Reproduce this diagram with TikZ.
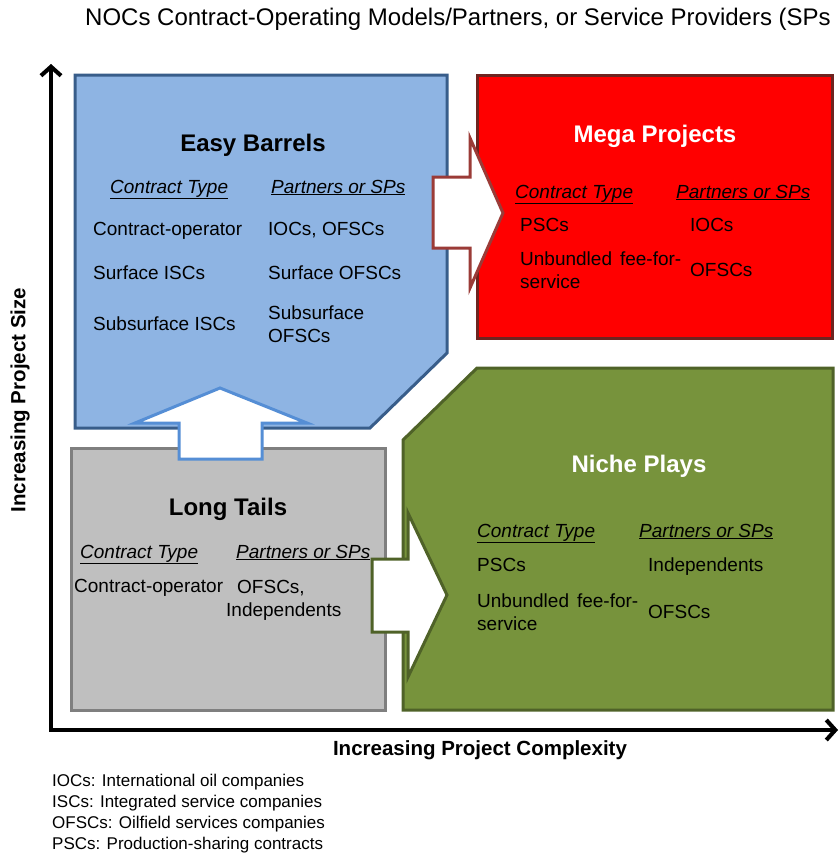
\documentclass[tikz,border=0pt]{standalone}
\usepackage{fontspec}
\setmainfont{Liberation Sans}
\usetikzlibrary{arrows.meta}

\definecolor{barrelfill}{HTML}{8EB4E3}
\definecolor{barrelline}{HTML}{385D8A}
\definecolor{upline}{HTML}{558ED5}
\definecolor{megafill}{HTML}{FF0000}
\definecolor{megaline}{HTML}{6E2420}
\definecolor{megaarrow}{HTML}{9B3B37}
\definecolor{tailfill}{HTML}{BFBFBF}
\definecolor{tailline}{HTML}{7F7F7F}
\definecolor{nichefill}{HTML}{77933C}
\definecolor{nicheline}{HTML}{4F6228}

\tikzset{
  box/.style={line width=3pt},
  blockarrow/.style={fill=white,line width=3pt},
  axis/.style={line width=4pt},
  heading/.style={font=\fontsize{24}{28}\selectfont\bfseries,anchor=base,inner sep=0pt},
  colhead/.style={font=\fontsize{19}{23}\selectfont\itshape,anchor=base west,inner sep=0pt},
  entry/.style={font=\fontsize{19}{23}\selectfont,anchor=base west,align=left,inner sep=0pt},
  axislabel/.style={font=\fontsize{20.5}{24}\selectfont\bfseries,inner sep=0pt},
}

\begin{document}
\begin{tikzpicture}[x=1pt,y=-1pt,>={Straight Barb[length=9pt,width=20pt]},line join=miter]
\useasboundingbox (0,0) rectangle (840,854);
\clip (0,0) rectangle (840,854);
%%
\node (title) at (85,25) [anchor=base west,inner sep=0pt,font=\fontsize{24}{28}\selectfont]
  {NOCs Contract-Operating Models/Partners, or Service Providers (SPs};

% axes, with a soft shadow under them
\coordinate (ytop) at (51,64);
\coordinate (origin) at (51,730);
\coordinate (xend) at (838,730);
\draw [axis,black!25,<->,shift={(2,2)}] (ytop) -- (origin) -- (xend);
\draw [axis,<->] (ytop) -- (origin) -- (xend);

% the four quadrants
\draw [box,fill=barrelfill,draw=barrelline] (75,75) -- (447,75) -- (447,353) -- (370,428) -- (75,428) -- cycle;
\draw [box,fill=megafill,draw=megaline] (477,75) rectangle (832,338);
\draw [box,fill=tailfill,draw=tailline] (71,448) rectangle (385,710);
\draw [box,fill=nichefill,draw=nicheline] (477,368) -- (833,368) -- (833,710) -- (403,710) -- (403,440) -- cycle;

% block arrows between them
\draw [blockarrow,draw=upline] (179,459) -- (179,423) -- (135,423) -- (220,388) -- (307,423) -- (262,423) -- (262,459) -- cycle;
\draw [blockarrow,draw=megaarrow] (433,177) -- (470,177) -- (470,138) -- (503,213) -- (470,288) -- (470,248) -- (433,248) -- cycle;
\draw [blockarrow,draw=nicheline] (372,559) -- (408,559) -- (408,513) -- (447,595) -- (408,677) -- (408,632) -- (372,632) -- cycle;

%% Easy Barrels (two-line nodes sit on their last baseline)
\node (easy_hd) at (253,151) [heading] {Easy Barrels};
\node (easy_ct) at (110,193) [colhead] {\underline{Contract Type}};
\node (easy_sp) at (271,193) [colhead] {\underline{Partners or SPs}};
\node (easy_c1) at (93,235) [entry] {Contract-operator};
\node (easy_c2) at (93,279) [entry] {Surface ISCs};
\node (easy_c3) at (93,330) [entry] {Subsurface ISCs};
\node (easy_p1) at (268,235) [entry] {IOCs, OFSCs};
\node (easy_p2) at (268,279) [entry] {Surface OFSCs};
\node (easy_p3) at (268,342) [entry] {Subsurface\\OFSCs};

%% Mega Projects
\node (mega_hd) at (655,142) [heading,text=white] {Mega Projects};
\node (mega_ct) at (515,198) [colhead] {\underline{Contract Type}};
\node (mega_sp) at (676,198) [colhead] {\underline{Partners or SPs}};
\node (mega_c1) at (520,231) [entry] {PSCs};
\node (mega_c2) at (520,288) [entry] {Unbundled\hspace{8pt}fee-for-\\service};
\node (mega_p1) at (690,231) [entry] {IOCs};
\node (mega_p2) at (690,276) [entry] {OFSCs};

%% Long Tails
\node (tails_hd) at (228,515) [heading] {Long Tails};
\node (tails_ct) at (80,558) [colhead] {\underline{Contract Type}};
\node (tails_sp) at (236,558) [colhead] {\underline{Partners or SPs}};
\node (tails_c1) at (74,592) [entry] {Contract-operator};
\node (tails_p1) at (226,616) [entry] {\hspace{11pt}OFSCs,\\Independents};

%% Niche Plays
\node (niche_hd) at (639,472) [heading,text=white] {Niche Plays};
\node (niche_ct) at (477,537) [colhead] {\underline{Contract Type}};
\node (niche_sp) at (639,537) [colhead] {\underline{Partners or SPs}};
\node (niche_c1) at (477,571) [entry] {PSCs};
\node (niche_c2) at (477,630) [entry] {Unbundled\hspace{8pt}fee-for-\\service};
\node (niche_p1) at (648,571) [entry] {Independents};
\node (niche_p2) at (648,618) [entry] {OFSCs};

%% axis titles and abbreviations
\node (xlabel) at (480,750) [axislabel] {Increasing Project Complexity};
\node (ylabel) at (20,400) [axislabel,rotate=90] {Increasing Project Size};
\node (legend) at (52,849) [anchor=base west,inner sep=0pt,align=left,font=\fontsize{17}{21}\selectfont]
  {IOCs: International oil companies\\ISCs: Integrated service companies\\OFSCs: Oilfield services companies\\PSCs: Production-sharing contracts};
%
\end{tikzpicture}
\end{document}
